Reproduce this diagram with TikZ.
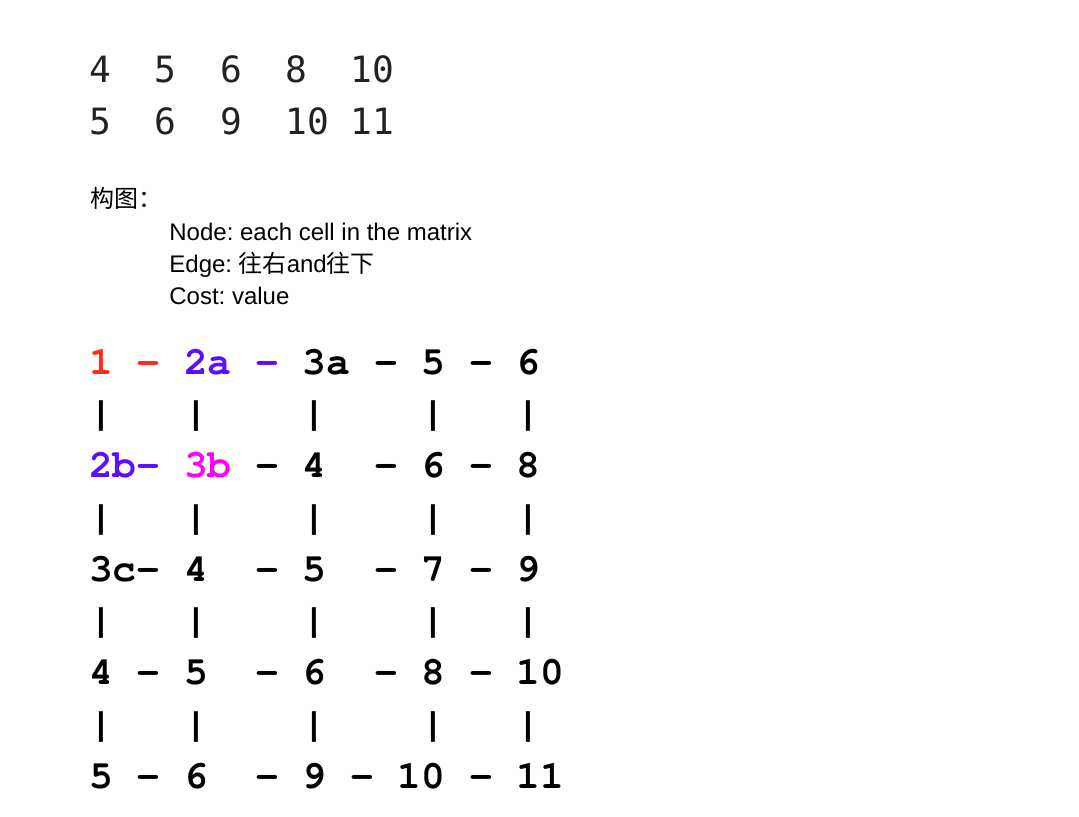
\documentclass[tikz,border=0pt]{standalone}
\usepackage{fontspec}
\setmainfont{Liberation Sans}
\newfontfamily\cjk{Noto Sans CJK SC}
\newfontfamily\codefont{DejaVu Sans Mono}
\newfontfamily\gridfont{texgyrecursor}[Extension=.otf,UprightFont=*-regular,BoldFont=*-bold]
\definecolor{ink}{HTML}{222222}
\definecolor{pathred}{HTML}{FF2A1A}
\definecolor{pathblue}{HTML}{5B0FFF}
\definecolor{pathpink}{HTML}{FF00FF}
\frenchspacing
\begin{document}
\begin{tikzpicture}[x=.5pt,y=-.5pt,
	every node/.style={inner sep=0pt,anchor=base west},
	matrixrow/.style={font=\codefont\fontsize{18.1}{20}\selectfont,text=ink},
	note/.style={font=\fontsize{12}{14}\selectfont,text=black},
	gridrow/.style={font=\gridfont\bfseries\fontsize{19.8}{22}\selectfont,text=black}]
	\useasboundingbox (0,0) rectangle (1079,816);
	% the matrix
	\node[matrixrow] (top1) at (89,82) {4~~5~~6~~8~~10};
	\node[matrixrow] (top2) at (89,134) {5~~6~~9~~10~11};
	% how the graph is built
	\node[note] (title) at (90,207) {\cjk 构图：};
	\node[note] (nodeline) at (169,240) {Node: each cell in the matrix};
	\node[note] (edgeline) at (169,272) {Edge: {\cjk 往右}and{\cjk 往下}};
	\node[note] (costline) at (169,304) {Cost: value};
	% the grid
	\node[gridrow] (row1) at (88.7,374) {\textcolor{pathred}{1~-}~\textcolor{pathblue}{2a~-}~3a~-~5~-~6};
	\node[gridrow] (row3) at (88.7,477.5) {\textcolor{pathblue}{2b-}~\textcolor{pathpink}{3b}~-~4~~-~6~-~8};
	\node[gridrow] (row5) at (88.7,581) {3c-~4~~-~5~~-~7~-~9};
	\node[gridrow] (row7) at (88.7,684.5) {4~-~5~~-~6~~-~8~-~10};
	\node[gridrow] (row9) at (88.7,788) {5~-~6~~-~9~-~10~-~11};
	\foreach \i/\y in {2/425.75,4/529.25,6/632.75,8/736.25}
		\node[gridrow] (row\i) at (88.7,\y) {|~~~|~~~~|~~~~|~~~|};
\end{tikzpicture}
\end{document}
